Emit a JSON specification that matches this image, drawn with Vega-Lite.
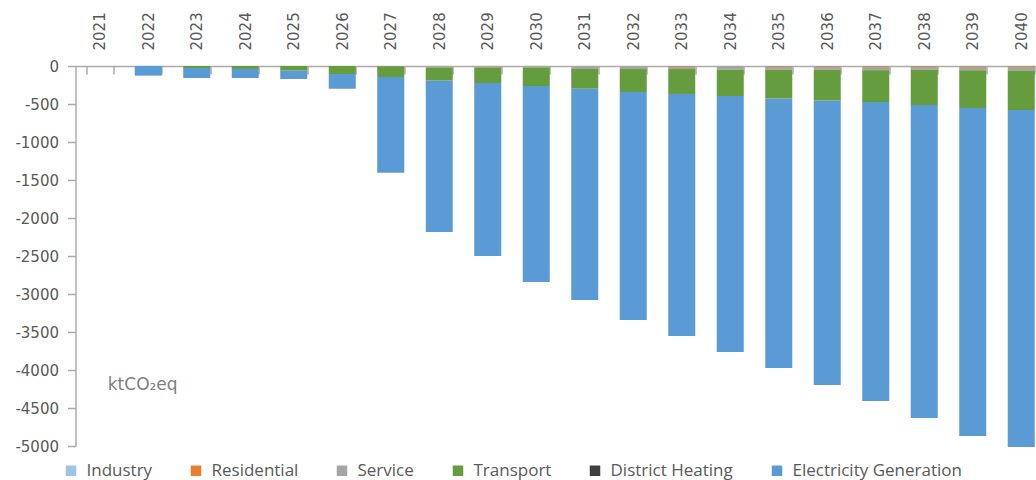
{
  "$schema": "https://vega.github.io/schema/vega-lite/v6.json",
  "width": 970,
  "height": 380,
  "autosize": {"type": "none"},
  "padding": {"left": 75.5, "top": 66, "right": 0, "bottom": 34},
  "background": "white",
  "config": {
    "view": {"stroke": null},
    "axis": {"labelFont": "DejaVu Sans", "labelFontSize": 15, "labelColor": "#595959", "domainColor": "#ababab", "tickColor": "#ababab", "domainWidth": 1.5, "tickWidth": 1.5, "grid": false, "title": null, "labelOverlap": false}
  },
  "layer": [
    {
      "data": {"values": [
        {"year": "2022", "sector": "Electricity Generation", "value": -127},
        {"year": "2023", "sector": "Transport", "value": -26},
        {"year": "2023", "sector": "Electricity Generation", "value": -132},
        {"year": "2024", "sector": "Transport", "value": -39},
        {"year": "2024", "sector": "Electricity Generation", "value": -119},
        {"year": "2025", "sector": "Transport", "value": -61},
        {"year": "2025", "sector": "Electricity Generation", "value": -110},
        {"year": "2026", "sector": "Transport", "value": -105},
        {"year": "2026", "sector": "Electricity Generation", "value": -193},
        {"year": "2027", "sector": "Service", "value": -5},
        {"year": "2027", "sector": "Transport", "value": -140},
        {"year": "2027", "sector": "Electricity Generation", "value": -1259},
        {"year": "2028", "sector": "Service", "value": -20},
        {"year": "2028", "sector": "Transport", "value": -173},
        {"year": "2028", "sector": "Electricity Generation", "value": -1991},
        {"year": "2029", "sector": "Service", "value": -20},
        {"year": "2029", "sector": "Transport", "value": -204},
        {"year": "2029", "sector": "Electricity Generation", "value": -2276},
        {"year": "2030", "sector": "Service", "value": -20},
        {"year": "2030", "sector": "Transport", "value": -243},
        {"year": "2030", "sector": "Electricity Generation", "value": -2579},
        {"year": "2031", "sector": "Service", "value": -40},
        {"year": "2031", "sector": "Transport", "value": -258},
        {"year": "2031", "sector": "Electricity Generation", "value": -2781},
        {"year": "2032", "sector": "Service", "value": -40},
        {"year": "2032", "sector": "Transport", "value": -302},
        {"year": "2032", "sector": "Electricity Generation", "value": -3000},
        {"year": "2033", "sector": "Residential", "value": -10},
        {"year": "2033", "sector": "Service", "value": -30},
        {"year": "2033", "sector": "Transport", "value": -328},
        {"year": "2033", "sector": "Electricity Generation", "value": -3185},
        {"year": "2034", "sector": "Service", "value": -50},
        {"year": "2034", "sector": "Transport", "value": -345},
        {"year": "2034", "sector": "Electricity Generation", "value": -3368},
        {"year": "2035", "sector": "Residential", "value": -10},
        {"year": "2035", "sector": "Service", "value": -40},
        {"year": "2035", "sector": "Transport", "value": -380},
        {"year": "2035", "sector": "Electricity Generation", "value": -3544},
        {"year": "2036", "sector": "Residential", "value": -10},
        {"year": "2036", "sector": "Service", "value": -40},
        {"year": "2036", "sector": "Transport", "value": -406},
        {"year": "2036", "sector": "Electricity Generation", "value": -3741},
        {"year": "2037", "sector": "Residential", "value": -10},
        {"year": "2037", "sector": "Service", "value": -45},
        {"year": "2037", "sector": "Transport", "value": -419},
        {"year": "2037", "sector": "Electricity Generation", "value": -3934},
        {"year": "2038", "sector": "Residential", "value": -10},
        {"year": "2038", "sector": "Service", "value": -40},
        {"year": "2038", "sector": "Transport", "value": -463},
        {"year": "2038", "sector": "Electricity Generation", "value": -4119},
        {"year": "2039", "sector": "Residential", "value": -10},
        {"year": "2039", "sector": "Service", "value": -45},
        {"year": "2039", "sector": "Transport", "value": -498},
        {"year": "2039", "sector": "Electricity Generation", "value": -4315},
        {"year": "2040", "sector": "Residential", "value": -10},
        {"year": "2040", "sector": "Service", "value": -50},
        {"year": "2040", "sector": "Transport", "value": -519},
        {"year": "2040", "sector": "Electricity Generation", "value": -4434}
      ]},
      "transform": [
        {"calculate": "indexof(['Industry','Residential','Service','Transport','District Heating','Electricity Generation'], datum.sector)", "as": "ord"}
      ],
      "mark": {"type": "bar"},
      "encoding": {
        "x": {
          "field": "year", "type": "nominal",
          "scale": {"domain": ["2021","2022","2023","2024","2025","2026","2027","2028","2029","2030","2031","2032","2033","2034","2035","2036","2037","2038","2039","2040"], "paddingInner": 0.443, "paddingOuter": 0.2215},
          "axis": {"orient": "top", "labelAngle": -90, "tickSize": -8, "tickBand": "extent", "labelPadding": 24}
        },
        "y": {
          "field": "value", "type": "quantitative", "stack": "zero",
          "scale": {"domain": [-5000, 0], "nice": false},
          "axis": {"values": [-5000,-4500,-4000,-3500,-3000,-2500,-2000,-1500,-1000,-500,0], "labelExpr": "'' + datum.value", "tickSize": 8, "labelPadding": 9}
        },
        "order": {"field": "ord", "type": "quantitative", "sort": "ascending"},
        "color": {
          "field": "sector", "type": "nominal",
          "scale": {"domain": ["Industry","Residential","Service","Transport","District Heating","Electricity Generation"], "range": ["#9dc3e6","#ed7d31","#a5a5a5","#659c3d","#404040","#5b9bd5"]},
          "legend": {"orient": "none", "legendX": -13, "legendY": 396, "direction": "horizontal", "title": null, "symbolType": "square", "symbolSize": 110, "symbolStrokeWidth": 0, "labelFont": "Open Sans", "labelFontSize": 17, "labelColor": "#595959", "labelOffset": 7, "labelLimit": 400, "columnPadding": 35}
        }
      }
    },
    {
      "data": {"values": [{"year": "2021", "value": -4263, "label": "ktCO₂eq"}]},
      "mark": {"type": "text", "align": "left", "baseline": "alphabetic", "dx": 8, "font": "DejaVu Sans", "fontSize": 17, "color": "#7f7f7f"},
      "encoding": {
        "x": {"field": "year", "type": "nominal",
          "axis": {"orient": "top", "labelAngle": -90, "tickSize": -8, "tickBand": "extent", "labelPadding": 24}},
        "y": {"field": "value", "type": "quantitative",
          "axis": {"values": [-5000,-4500,-4000,-3500,-3000,-2500,-2000,-1500,-1000,-500,0], "labelExpr": "'' + datum.value", "tickSize": 8, "labelPadding": 9}},
        "text": {"field": "label"}
      }
    }
  ]
}
